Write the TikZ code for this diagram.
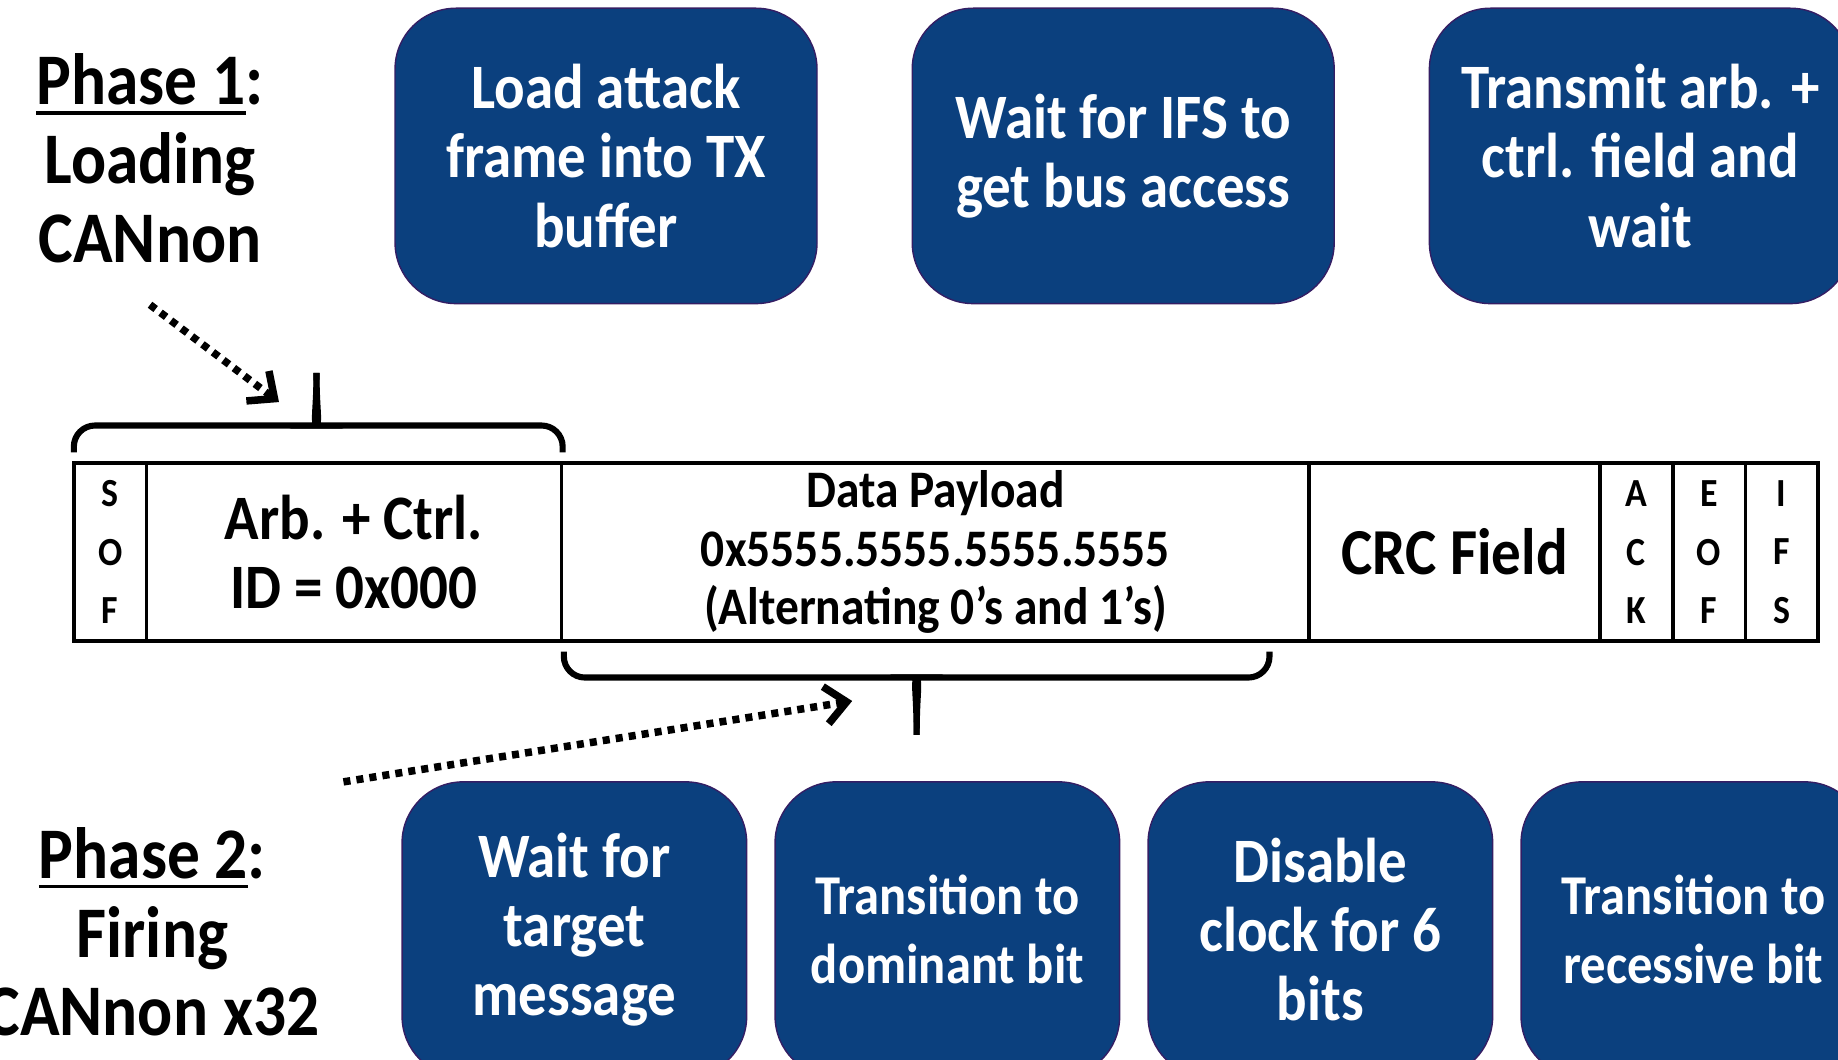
\documentclass[tikz,border=0pt]{standalone}
\usepackage{fontspec}
\setmainfont{Carlito}[FakeStretch=0.9]
\usetikzlibrary{positioning,arrows.meta}

\definecolor{canblue}{RGB}{11,64,126}
\definecolor{canedge}{RGB}{52,30,100}

\newcommand{\phasefont}{\fontsize{31}{33.5}\selectfont\bfseries}
\newcommand{\boxfont}{\fontsize{27}{29.5}\selectfont\bfseries}
\newcommand{\trfont}{\fontsize{24}{29.5}\selectfont\bfseries}
\newcommand{\letterfont}{\fontsize{17}{25}\selectfont\bfseries}
\newcommand{\datafont}{\fontsize{22.5}{25}\selectfont\bfseries}
% thick underline for the phase titles
\newcommand{\phaseul}[1]{\setbox0\hbox{#1}\rlap{\vrule height -2.6pt depth 4.2pt width \wd0}\box0}

\tikzset{
  stepbox/.style={rectangle, rounded corners=26pt, fill=canblue, draw=canedge,
    line width=0.6pt, text=white, align=center, inner sep=0pt,
    minimum height=126pt, font=\boxfont},
  cell/.style={draw, line width=1.6pt, minimum height=76pt, inner sep=0pt,
    outer sep=0pt, align=center},
  brace/.style={line width=2.6pt, rounded corners=9pt},
  pointer/.style={line width=3.2pt, dash pattern=on 3pt off 2.6pt,
    -{Straight Barb[length=9pt,width=16pt]}},
}

\begin{document}
\begin{tikzpicture}[x=0.5pt, y=-0.5pt]
	\useasboundingbox (0,0) rectangle (1568,904);

	% phase labels
	\node[font=\phasefont, align=center] (phase1) at (128,135) {\phaseul{Phase 1}:\\Loading\\CANnon};
	\node[font=\phasefont, align=center] (phase2) at (130,795) {\phaseul{Phase 2}:\\Firing\\CANnon x32};

	% phase 1 steps
	\node[stepbox, minimum width=180pt] (load) at (517,133) {Load attack\\frame into TX\\buffer};
	\node[stepbox, minimum width=180pt, right=40pt of load] (ifs) {Wait for IFS to\\get bus access};
	\node[stepbox, minimum width=180pt, right=40pt of ifs] (arbtx) {Transmit arb. +\\ctrl. field and\\wait};

	% CAN frame
	\node[cell, minimum width=31pt, anchor=west, font=\letterfont] (sof) at (63,471) {S\\O\\F};
	\node[cell, minimum width=177pt, right=0pt of sof, font=\boxfont] (arb) {Arb. + Ctrl.\\ID = 0x000};
	\node[cell, minimum width=319pt, right=0pt of arb, font=\datafont] (data) {Data Payload\\0x5555.5555.5555.5555\\(Alternating 0’s and 1’s)};
	\node[cell, minimum width=124pt, right=0pt of data, font=\fontsize{28}{30}\selectfont\bfseries] (crc) {CRC Field};
	\node[cell, minimum width=31pt, right=0pt of crc, font=\letterfont] (ack) {A\\C\\K};
	\node[cell, minimum width=31pt, right=0pt of ack, font=\letterfont] (eof) {E\\O\\F};
	\node[cell, minimum width=31pt, right=0pt of eof, font=\letterfont] (ifsf) {I\\F\\S};

	% braces, each drawn as two halves meeting at the tip
	\draw[brace] (63,386) -- (63,363) -- (254,363) .. controls (266,363) and (270,354) .. (270,318);
	\draw[brace] (480,386) -- (480,363) -- (286,363) .. controls (274,363) and (270,354) .. (270,318);
	\draw[brace] (481,556) -- (481,578) -- (766,578) .. controls (778,578) and (782,587) .. (782,627);
	\draw[brace] (1083,556) -- (1083,578) -- (798,578) .. controls (786,578) and (782,587) .. (782,627);

	% pointers
	\coordinate (p1tail) at (128,260);
	\coordinate (p1head) at (238,343);
	\coordinate (p2tail) at (293,667);
	\coordinate (p2head) at (727,598);
	\draw[pointer] (p1tail) -- (p1head);
	\draw[pointer] (p2tail) -- (p2head);

	% phase 2 steps
	\node[stepbox, minimum width=147pt] (target) at (490,793) {Wait for\\target\\message};
	\node[stepbox, minimum width=147pt, right=11.5pt of target, font=\trfont] (dom) {Transition to\\dominant bit};
	\node[stepbox, minimum width=147pt, right=11.5pt of dom] (clk) {Disable\\clock for 6\\bits};
	\node[stepbox, minimum width=147pt, right=11.5pt of clk, font=\trfont] (rec) {Transition to\\recessive bit};
\end{tikzpicture}
\end{document}
